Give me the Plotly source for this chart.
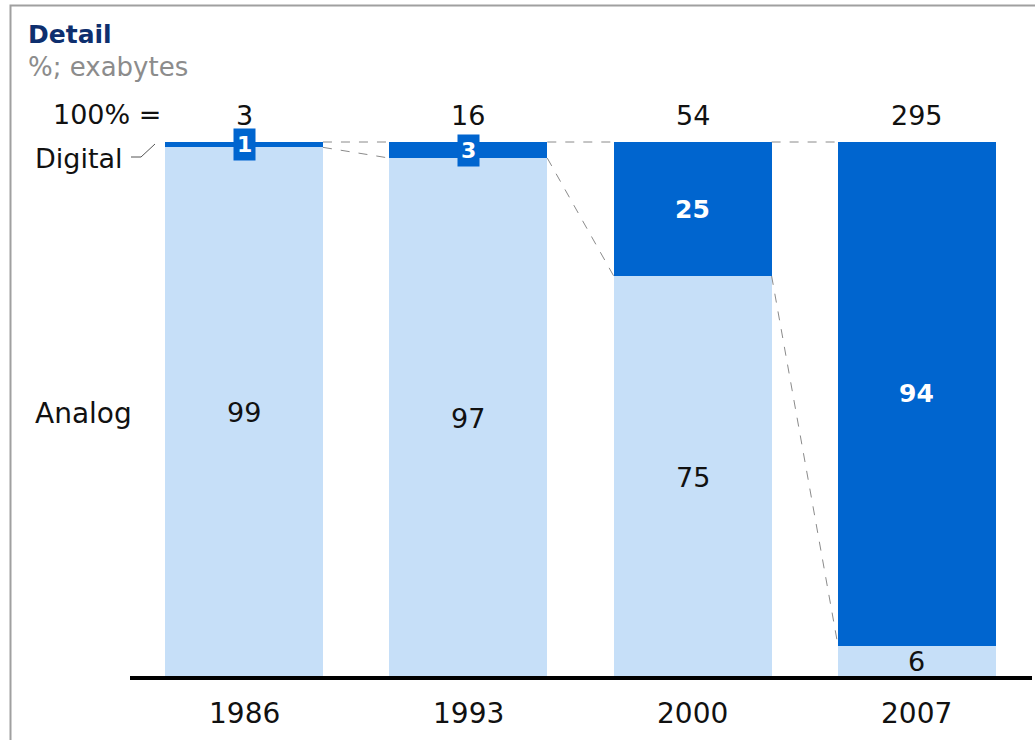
import plotly.graph_objects as go

# ---- data ----
years = ["1986", "1993", "2000", "2007"]
analog = [99, 97, 75, 6]
digital = [1, 3, 25, 94]
totals = [3, 16, 54, 295]
title = "Detail"
subtitle = "%; exabytes"

# ---- geometry (pixels in the screenshot) ----
W, H = 1035, 740
OFF = 0  # body margin removed via post_script
x_center0, x_step = 244.0 - OFF, 224.33
y_base, px_per_unit = 678.0 - OFF, 5.36
bar_w = 0.704

LIGHT = "#C6DFF8"
DARK = "#0065CF"
FONT = "DejaVu Sans"
TXT = "#111111"

xs = list(range(len(years)))
x_rng = [(0 - x_center0) / x_step, (W - x_center0) / x_step]
y_rng = [(y_base - H) / px_per_unit, y_base / px_per_unit]


def px(x):
    return (x - OFF) / W


def py(y):
    return 1 - (y - OFF) / H


def ydata(y):
    return (y_base - (y - OFF)) / px_per_unit


fig = go.Figure()
fig.add_trace(go.Bar(x=xs, y=analog, width=bar_w, marker=dict(color=LIGHT, line=dict(width=0)),
                     name="Analog", hoverinfo="skip"))
fig.add_trace(go.Bar(x=xs, y=digital, width=bar_w, marker=dict(color=DARK, line=dict(width=0)),
                     name="Digital", hoverinfo="skip"))

ann = []
shapes = []

# connector dashed lines between bars
for i in range(len(years) - 1):
    xr = xs[i] + bar_w / 2
    xl = xs[i + 1] - bar_w / 2
    top_i = analog[i] + digital[i]
    top_n = analog[i + 1] + digital[i + 1]
    shapes.append(dict(type="line", xref="x", yref="y", x0=xr, x1=xl, y0=top_i, y1=top_n,
                       line=dict(color="#8a8a8a", width=1, dash="dash")))
    shapes.append(dict(type="line", xref="x", yref="y", x0=xr, x1=xl, y0=analog[i], y1=analog[i + 1],
                       line=dict(color="#8a8a8a", width=1, dash="dash")))

# baseline
shapes.append(dict(type="line", xref="paper", yref="y", x0=px(130), x1=px(1032), y0=0, y1=0,
                   line=dict(color="black", width=4)))
# frame
shapes.append(dict(type="rect", xref="paper", yref="paper", x0=px(10.5), x1=1.2, y0=-0.2, y1=py(5.5),
                   line=dict(color="#a0a0a0", width=2)))
# digital leader line
shapes.append(dict(type="path", xref="paper", yref="paper",
                   path=f"M {px(131)},{py(157)} L {px(141)},{py(157)} L {px(155)},{py(144)}",
                   line=dict(color="#555555", width=1)))

for i, yr in enumerate(years):
    ann.append(dict(x=xs[i], y=analog[i] / 2, xref="x", yref="y", text=str(analog[i]), showarrow=False,
                    font=dict(family=FONT, size=27, color=TXT)))
    dy = analog[i] + digital[i] / 2
    if digital[i] < 10:
        ann.append(dict(x=xs[i], y=dy, xref="x", yref="y", text=f"<b>{digital[i]}</b>", showarrow=False,
                        bgcolor=DARK, borderpad=3,
                        font=dict(family=FONT, size=22, color="white")))
    else:
        ann.append(dict(x=xs[i], y=dy, xref="x", yref="y", text=f"<b>{digital[i]}</b>", showarrow=False,
                        font=dict(family=FONT, size=25, color="white")))
    ann.append(dict(x=xs[i], y=ydata(115), xref="x", yref="y", text=str(totals[i]),
                    showarrow=False, font=dict(family=FONT, size=27, color=TXT)))
    ann.append(dict(x=xs[i], y=ydata(713), xref="x", yref="y", text=yr,
                    showarrow=False, font=dict(family=FONT, size=28, color=TXT)))

ann.append(dict(x=px(163), y=py(115), xref="paper", yref="paper", xanchor="right", yanchor="middle",
                text="100% =", showarrow=False, font=dict(family=FONT, size=27, color=TXT)))
ann.append(dict(x=px(33), y=py(413), xref="paper", yref="paper", xanchor="left", yanchor="middle",
                text="Analog", showarrow=False, font=dict(family=FONT, size=28, color=TXT)))
ann.append(dict(x=px(33), y=py(158), xref="paper", yref="paper", xanchor="left", yanchor="middle",
                text="Digital", showarrow=False, font=dict(family=FONT, size=27, color=TXT)))
ann.append(dict(x=px(27), y=py(35), xref="paper", yref="paper", xanchor="left", yanchor="middle",
                text=f"<b>{title}</b>", showarrow=False, borderpad=0,
                font=dict(family=FONT, size=25, color="#0E2F6E")))
ann.append(dict(x=px(27), y=py(67), xref="paper", yref="paper", xanchor="left", yanchor="middle",
                text=subtitle, showarrow=False, borderpad=0,
                font=dict(family=FONT, size=26, color="#8c8c8c")))

fig.update_layout(
    width=W, height=H, barmode="stack", showlegend=False,
    margin=dict(l=0, r=0, t=0, b=0),
    paper_bgcolor="white", plot_bgcolor="white",
    xaxis=dict(range=x_rng, visible=False, fixedrange=True),
    yaxis=dict(range=y_rng, visible=False, fixedrange=True),
    annotations=ann, shapes=shapes, hovermode=False,
)

fig.write_html("out.html", config={"displayModeBar": False},
               post_script="document.body.style.margin='0';document.body.style.overflow='hidden';")
